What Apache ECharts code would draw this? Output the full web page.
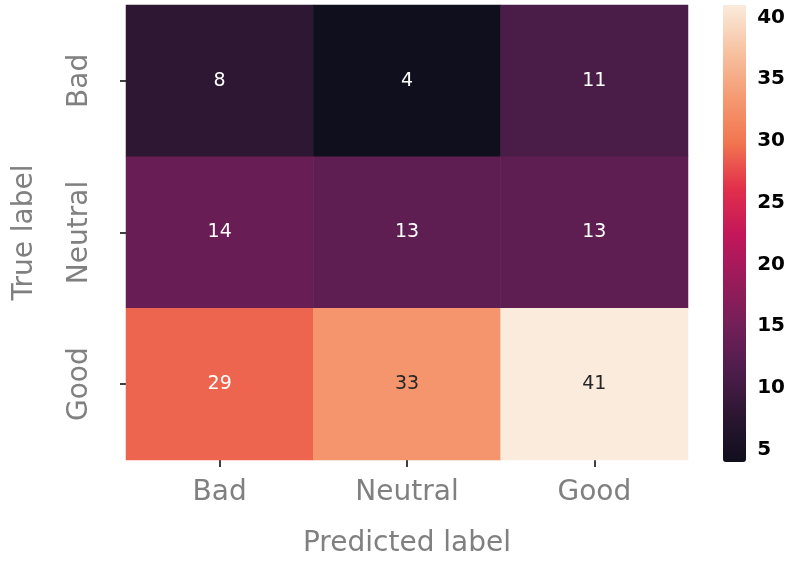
<!DOCTYPE html>
<html><head><meta charset="utf-8">
<script src="https://cdn.jsdelivr.net/npm/echarts@6/dist/echarts.min.js"></script>
<style>html,body{margin:0;padding:0;background:#fff}#c{width:788px;height:563px}</style>
</head><body><div id="c"></div>
<script>
// Data
const predictedLabels = ['Bad', 'Neutral', 'Good'];
const trueLabels = ['Bad', 'Neutral', 'Good'];
const rowBad = [8, 4, 11];
const rowNeutral = [14, 13, 13];
const rowGood = [29, 33, 41];
const colorbarTicks = [5, 10, 15, 20, 25, 30, 35, 40];
const vMin = 4, vMax = 41;

const rocket = ['#100F1D', '#2B1631', '#4E1D4B', '#731F58', '#9A1B5B', '#C4175A',
                '#E2304A', '#F27650', '#F59B74', '#F7C3A2', '#FAEBDD'];

const rows = [rowBad, rowNeutral, rowGood];
const cells = [];
rows.forEach((r, yi) => r.forEach((v, xi) => cells.push({
  value: [xi, yi, v],
  label: { color: v >= 30 ? '#262626' : '#ffffff' }
})));

const gray = '#808080';
const font = 'DejaVu Sans';

const chart = echarts.init(document.getElementById('c'), null, { renderer: 'canvas' });
chart.setOption({
  animation: false,
  backgroundColor: '#ffffff',
  grid: [
    { left: 126, top: 5, width: 562, height: 457 },
    { left: 723, top: 5, width: 23, height: 457 }
  ],
  xAxis: [
    {
      type: 'category', gridIndex: 0, data: predictedLabels, position: 'bottom',
      axisLine: { show: false },
      axisTick: { show: true, alignWithLabel: true, length: 7, lineStyle: { color: '#000', width: 1.5 } },
      axisLabel: { fontSize: 28, color: gray, margin: 19, fontFamily: font },
      splitLine: { show: false },
      name: 'Predicted label', nameLocation: 'middle', nameGap: 70,
      nameTextStyle: { fontSize: 28, color: gray, fontFamily: font }
    },
    { type: 'value', gridIndex: 1, show: false, min: 0, max: 1 }
  ],
  yAxis: [
    {
      type: 'category', gridIndex: 0, data: trueLabels, inverse: true,
      axisLine: { show: false },
      axisTick: { show: true, alignWithLabel: true, length: 6, lineStyle: { color: '#000', width: 1.5 } },
      axisLabel: { fontSize: 28, color: gray, margin: 32, rotate: 90, fontFamily: font },
      splitLine: { show: false },
      name: 'True label', nameLocation: 'middle', nameGap: 87, nameRotate: 90,
      nameTextStyle: { fontSize: 28, color: gray, fontFamily: font }
    },
    {
      type: 'value', gridIndex: 1, min: vMin, max: vMax, position: 'right',
      axisLine: { show: false },
      splitLine: { show: false },
      axisTick: { show: true, length: 9, customValues: colorbarTicks, lineStyle: { color: '#000', width: 2.5 } },
      axisLabel: { show: true, customValues: colorbarTicks, margin: 15, color: '#000',
                   fontSize: 20, fontWeight: 'bold', fontFamily: font }
    }
  ],
  visualMap: {
    type: 'continuous', seriesIndex: 0, dimension: 2, min: vMin, max: vMax,
    calculable: false, orient: 'vertical', left: 723, top: 5, padding: 0,
    itemWidth: 23, itemHeight: 457, text: null, showLabel: false,
    inRange: { color: rocket }
  },
  series: [{
    type: 'heatmap', xAxisIndex: 0, yAxisIndex: 0, data: cells,
    label: { show: true, fontSize: 19, fontFamily: font, formatter: p => p.value[2] },
    itemStyle: { borderWidth: 0 },
    emphasis: { disabled: true }
  }]
});
</script></body></html>
